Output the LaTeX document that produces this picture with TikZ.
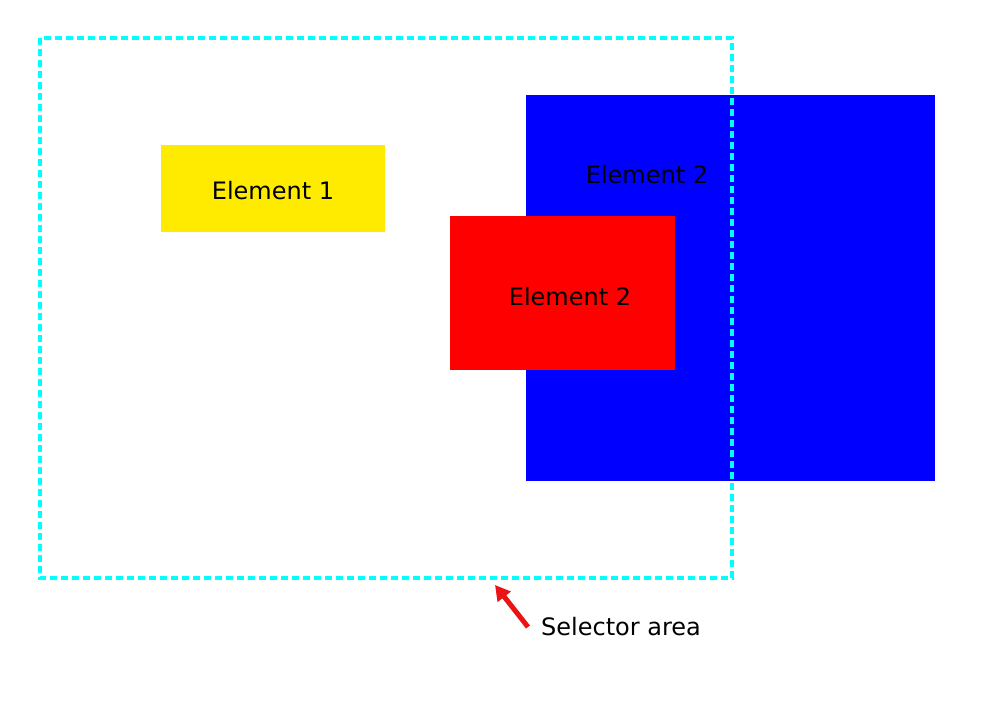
\documentclass[tikz,border=0pt]{standalone}
\usepackage{fontspec}
\setmainfont{DejaVu Sans}
\usetikzlibrary{arrows.meta}
\definecolor{selcyan}{RGB}{0,255,255}
\definecolor{elblue}{RGB}{0,0,255}
\definecolor{elred}{RGB}{255,0,0}
\definecolor{elyellow}{RGB}{255,235,0}
\definecolor{arrred}{RGB}{235,20,20}
\begin{document}
\begin{tikzpicture}[x=1pt,y=-1pt,
  lbl/.style={font=\fontsize{24}{28}\selectfont, text=black, inner sep=0pt}]
\useasboundingbox (0,0) rectangle (982,720);
\fill[elblue] (526,95) rectangle (935,481);
\node[lbl] (e2b) at (647,175) {Element 2};
\fill[elred] (450,216) rectangle (675,370);
\node[lbl] (e2r) at (570,297) {Element 2};
\fill[elyellow] (161,145) rectangle (385,232);
\node[lbl] (e1) at (273,191) {Element 1};
\draw[selcyan, line width=3.5pt, dash pattern=on 7pt off 4pt] (40,38) rectangle (732,578);
\node[lbl, anchor=west] (sel) at (541,627) {Selector area};
\coordinate (start) at (528,627);
\coordinate (tip) at (495,585);
\draw[arrred, line width=5pt, -{Triangle[length=15pt,width=16pt]}] (start) -- (tip);
\end{tikzpicture}
\end{document}
